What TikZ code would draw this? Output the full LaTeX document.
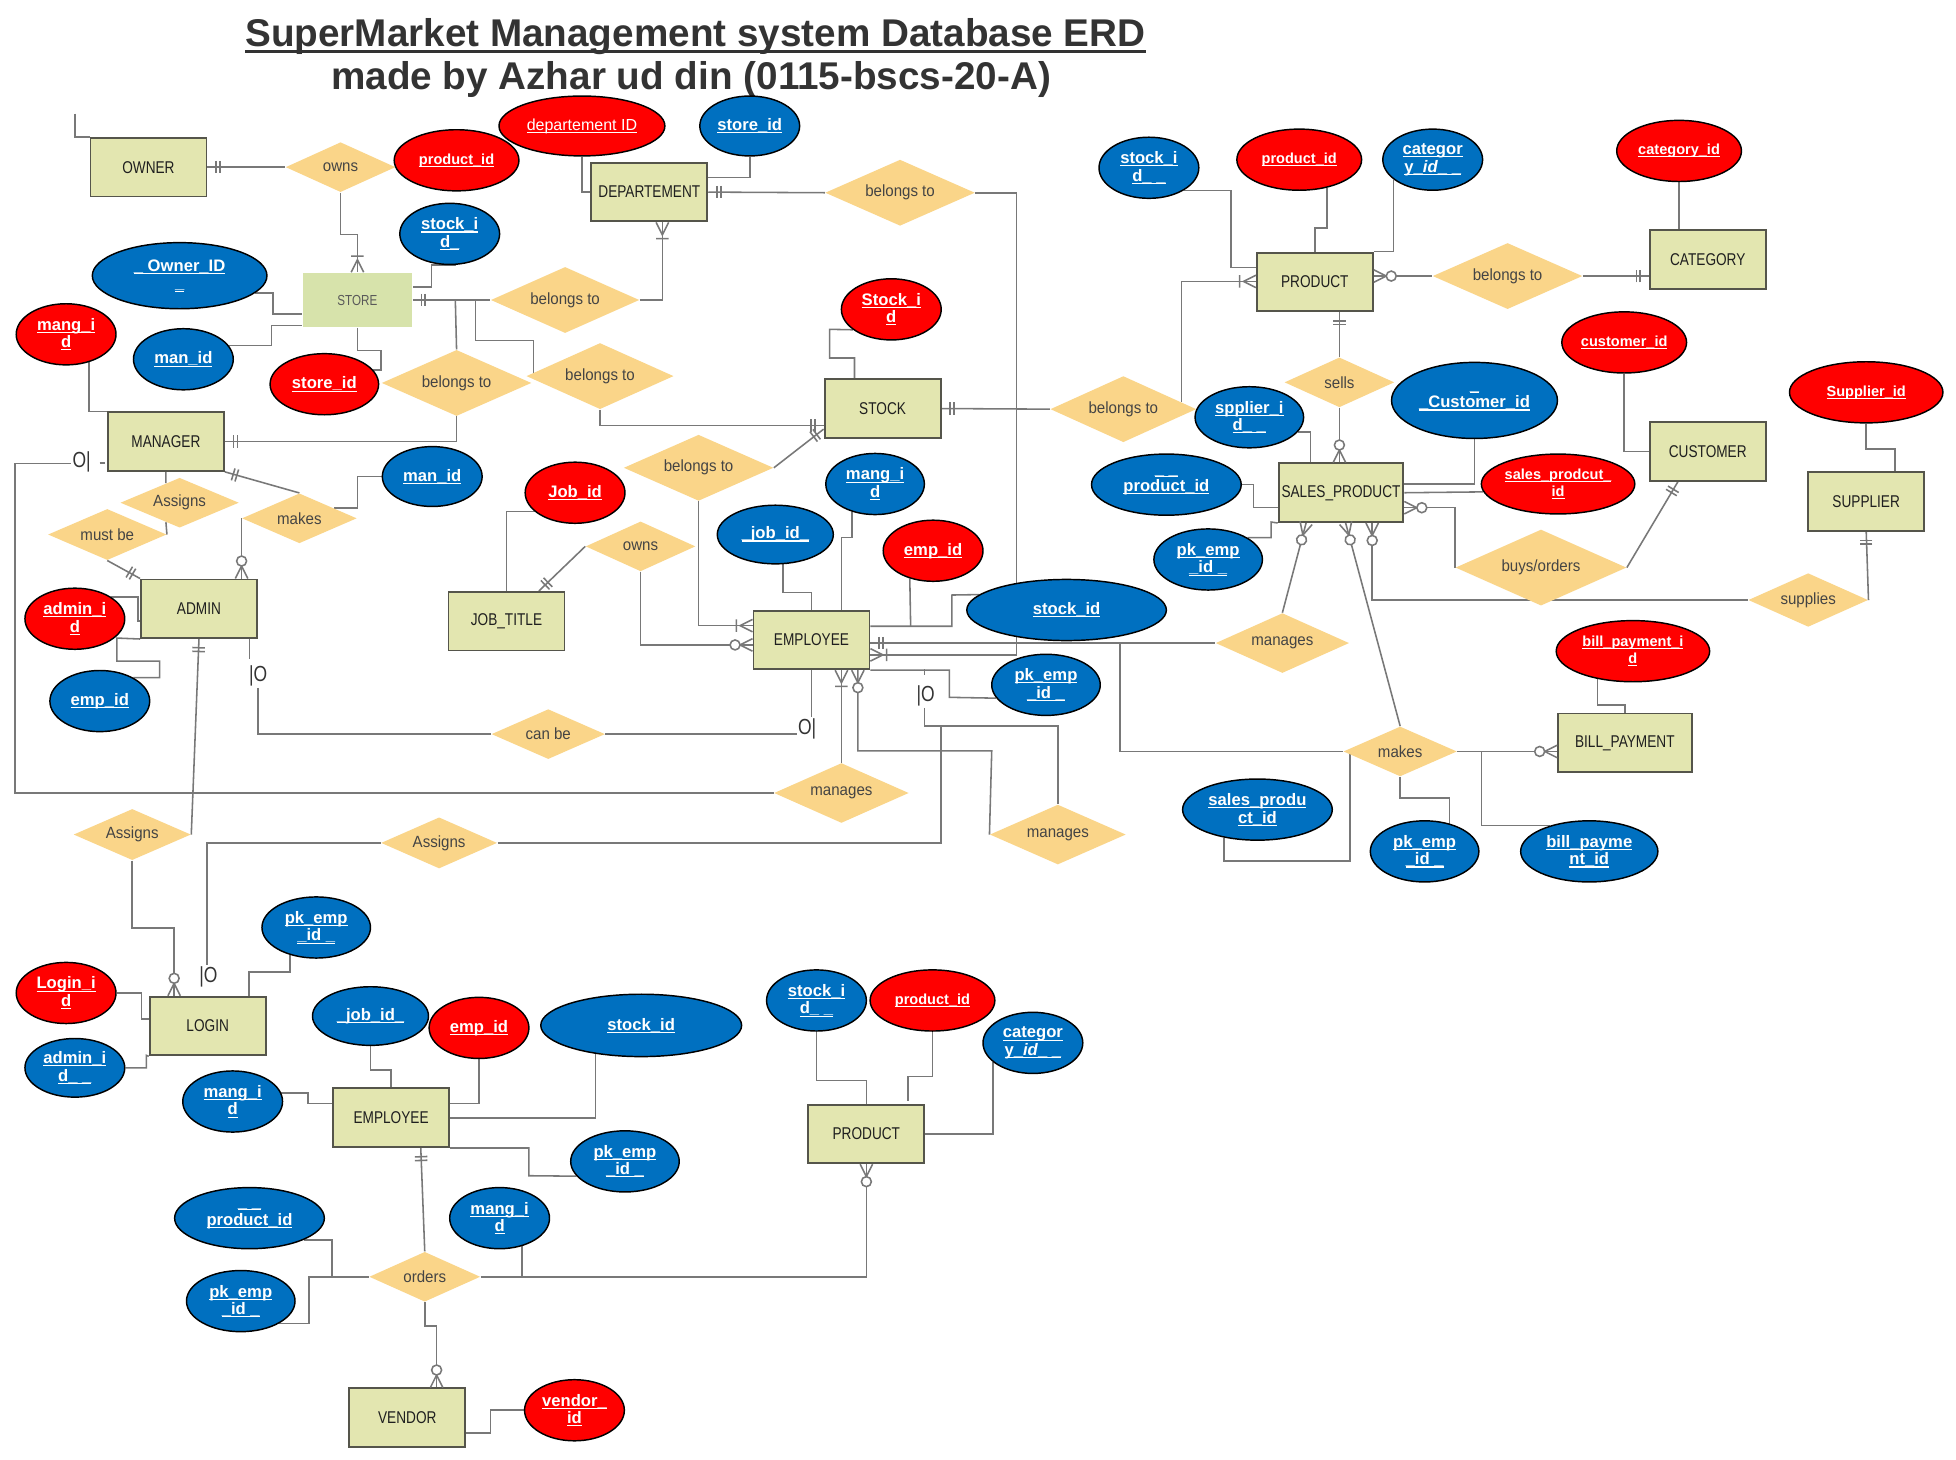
\documentclass[tikz,border=0pt]{standalone}
\usepackage{fontspec}
\setmainfont{Liberation Sans}
\newfontfamily\entfont[FakeStretch=0.8]{Liberation Sans}
\newfontfamily\relfont[FakeStretch=0.93]{Liberation Sans}
\usetikzlibrary{shapes.geometric, positioning, calc, backgrounds}

\definecolor{entfill}{RGB}{227,230,176}
\definecolor{storefill}{RGB}{215,227,171}
\definecolor{entborder}{RGB}{85,85,75}
\definecolor{relfill}{RGB}{250,213,137}
\definecolor{reltext}{RGB}{68,68,68}
\definecolor{attrred}{RGB}{255,0,0}
\definecolor{attrblue}{RGB}{0,112,192}
\definecolor{linegray}{RGB}{120,120,120}
\definecolor{titlegray}{RGB}{51,51,51}

\newsavebox{\ulbox}
\newcommand{\ulx}[3]{\sbox{\ulbox}{#3}\rlap{\vrule width\wd\ulbox height\dimexpr#2-#1\relax depth #1\relax}\usebox{\ulbox}}
\newcommand{\fld}[1]{\makebox[0pt]{\ulx{1.3pt}{0.5pt}{#1}}}
\newcommand{\ttlu}[1]{\ulx{3pt}{1.2pt}{#1}}

\begin{document}
\begin{tikzpicture}[
    x=0.6pt, y=-0.6pt,
    entity/.style={rectangle, draw=entborder, line width=0.9pt, fill=entfill, minimum width=55.8pt, minimum height=28.2pt, inner sep=0, font=\entfont\fontsize{8.2}{9}\selectfont, text=black!88},
    storebox/.style={entity, draw=none, fill=storefill, font=\entfont\fontsize{7}{8}\selectfont, text=black!65},
    relation/.style={diamond, aspect=2.2, fill=relfill, inner sep=0, font=\relfont\fontsize{7.8}{9}\selectfont, text=reltext},
    keyred/.style={ellipse, draw=black, line width=0.7pt, fill=attrred, text=white, align=center, inner sep=0, font=\bfseries\fontsize{8}{8.4}\selectfont},
    keyblue/.style={keyred, fill=attrblue},
    keysmall/.style={font=\bfseries\fontsize{7}{8}\selectfont},
    sz/.style 2 args={minimum width=#1*0.6pt, minimum height=#2*0.6pt},
    cardtext/.style={inner sep=0.5pt, font=\entfont\fontsize{10.5}{12}\selectfont, text=titlegray},
    titletext/.style={font=\bfseries\fontsize{18.6}{22}\selectfont, text=titlegray, inner sep=0},
    relline/.style={draw=linegray, line width=0.75pt},
    onemark/.pic={\draw[relline] (7,-5) -- (7,5) (10,-5) -- (10,5);},
    onemany/.pic={\draw[relline] (0,-5) -- (10,0) -- (0,5) (13,-5) -- (13,5);},
    zeromany/.pic={\draw[relline] (0,-5) -- (10,0) -- (0,5); \draw[relline, fill=white] (14,0) circle[radius=4];}
]
    \useasboundingbox (0,0) rectangle (1568,1170);

    \node[titletext, anchor=base] (title1) at (557.5,37.2) {\ttlu{SuperMarket Management system Database ERD}};
    \node[titletext, anchor=base] (title2) at (554,71.8) {made by Azhar ud din (0115-bscs-20-A)};

    \node[entity] (owner) at (119,134) {OWNER};
    \node[storebox, minimum width=52.2pt, minimum height=25.8pt] (store) at (286.5,240.5) {STORE};
    \node[entity] (manager) at (133,354) {MANAGER};
    \node[entity] (dept) at (520.5,154) {DEPARTEMENT};
    \node[entity] (stock) at (707.5,327.5) {STOCK};
    \node[entity] (product) at (1054,226) {PRODUCT};
    \node[entity] (category) at (1369,208) {CATEGORY};
    \node[entity] (customer) at (1369,362) {CUSTOMER};
    \node[entity] (supplier) at (1496,402) {SUPPLIER};
    \node[entity, minimum width=60pt] (salesprod) at (1075,395) {SALES\_PRODUCT};
    \node[entity] (jobtitle) at (406,498) {JOB\_TITLE};
    \node[entity] (admin) at (159.5,488) {ADMIN};
    \node[entity] (employee) at (650.5,513) {EMPLOYEE};
    \node[entity, minimum width=64.2pt] (billpay) at (1302.5,595.5) {BILL\_PAYMENT};
    \node[entity] (login) at (166.5,822.5) {LOGIN};
    \node[entity] (emp2) at (313.5,896) {EMPLOYEE};
    \node[entity] (product2) at (694.5,909) {PRODUCT};
    \node[entity] (vendor) at (326.5,1136.5) {VENDOR};

    \node[relation, sz={88}{40}] (owns1) at (273,134) {owns};
    \node[relation, sz={119}{53}] (bel1) at (453,240.5) {belongs to};
    \node[relation, sz={120}{53}] (bel2) at (366,307) {belongs to};
    \node[relation, sz={118}{53}] (bel3) at (481,301.5) {belongs to};
    \node[relation, sz={120}{53}] (bel4) at (721.5,154.5) {belongs to};
    \node[relation, sz={117}{53}] (bel5) at (900.5,328) {belongs to};
    \node[relation, sz={120}{53}] (bel6) at (560,375) {belongs to};
    \node[relation, sz={120}{53}] (bel7) at (1208.5,221.3) {belongs to};
    \node[relation, sz={88}{40}] (sells) at (1073.7,306.5) {sells};
    \node[relation, sz={95}{40}] (assigns1) at (144,403) {Assigns};
    \node[relation, sz={95}{41}] (mustbe) at (86,428.5) {must be};
    \node[relation, sz={92}{40}] (makes1) at (240,415.5) {makes};
    \node[relation, sz={88}{40}] (owns2) at (513.5,438) {owns};
    \node[relation, sz={91}{40}] (canbe) at (439.5,588.5) {can be};
    \node[relation, sz={108}{48}] (manages1) at (674.5,635.7) {manages};
    \node[relation, sz={109}{48}] (manages2) at (848,669) {manages};
    \node[relation, sz={107}{48}] (manages3) at (1028,515.5) {manages};
    \node[relation, sz={91}{40}] (makes2) at (1122.4,602.4) {makes};
    \node[relation, sz={137}{61}] (buys) at (1235.3,455) {buys/orders};
    \node[relation, sz={96}{43}] (supplies) at (1449.5,481) {supplies};
    \node[relation, sz={94}{41}] (assigns2) at (106,669) {Assigns};
    \node[relation, sz={93}{41}] (assigns3) at (352,675.7) {Assigns};
    \node[relation, sz={89}{40}] (orders) at (340.5,1023.5) {orders};

    \node[keyred, sz={133}{48}, font=\fontsize{7.7}{9}\selectfont] (deptid) at (466.5,101) {\fld{departement ID}};
    \node[keyred, keysmall, sz={100}{49}] (prodid1) at (366,128.5) {\fld{product\_id}};
    \node[keyblue, sz={80}{48}] (storeid1) at (601,101) {\fld{store\_id}};
    \node[keyblue, sz={80}{49}] (stockid1) at (360.5,187.5) {\fld{stock\_i}\\\fld{d\_}};
    \node[keyblue, sz={140}{53}] (ownerid) at (144,221) {\fld{\_ Owner\_ID}\\\fld{\_}};
    \node[keyred, sz={80}{49}] (mangid1) at (53,268) {\fld{mang\_i}\\\fld{d}};
    \node[keyblue, sz={80}{49}] (manid1) at (147,288) {\fld{man\_id}};
    \node[keyred, sz={87}{49}] (storeid2) at (260,308) {\fld{store\_id}};
    \node[keyred, sz={80}{49}] (stockid2) at (714.5,248) {\fld{Stock\_i}\\\fld{d}};
    \node[keyblue, sz={80}{49}] (stockid3) at (921,134.5) {\fld{stock\_i}\\\fld{d\_ \_}};
    \node[keyred, keysmall, sz={100}{49}] (prodid2) at (1041.5,128) {\fld{product\_id}};
    \node[keyblue, sz={80}{49}] (catid1) at (1148.5,128) {\fld{categor}\\\fld{y\_\textit{id}\_ \_}};
    \node[keyred, keysmall, sz={100}{49}] (catid2) at (1346,121) {\fld{category\_id}};
    \node[keyred, keysmall, sz={100}{49}] (custid1) at (1302,274.5) {\fld{customer\_id}};
    \node[keyred, keysmall, sz={123}{49}] (suppid) at (1496,314.5) {\fld{Supplier\_id}};
    \node[keyblue, sz={133}{61}] (custid2) at (1182,321) {\fld{\_}\\\fld{\_Customer\_id}};
    \node[keyblue, sz={87}{49}] (splid) at (1001.5,334.5) {\fld{spplier\_i}\\\fld{d\_ \_}};
    \node[keyblue, sz={120}{49}] (prodid3) at (935,388.5) {\fld{\_ \_}\\\fld{product\_id}};
    \node[keyred, keysmall, sz={123}{48}] (spid1) at (1249,388) {\fld{sales\_prodcut\_}\\\fld{id}};
    \node[keyblue, sz={87}{49}] (pkemp1) at (968.5,448.5) {\fld{pk\_emp}\\\fld{\_id \_}};
    \node[keyblue, sz={79}{49}] (mangid2) at (701.5,388) {\fld{mang\_i}\\\fld{d}};
    \node[keyblue, sz={93}{47}] (jobid1) at (621.5,428.5) {\fld{\_job\_id\_}};
    \node[keyred, sz={80}{49}] (jobid2) at (461,395) {\fld{Job\_id}};
    \node[keyred, sz={80}{49}] (empid1) at (748,441.5) {\fld{emp\_id}};
    \node[keyblue, sz={160}{49}] (stockid4) at (855,489) {\fld{stock\_id}};
    \node[keyblue, sz={87}{49}] (pkemp2) at (838.5,549) {\fld{pk\_emp}\\\fld{\_id \_}};
    \node[keyred, sz={80}{49}] (adminid1) at (60,496) {\fld{admin\_i}\\\fld{d}};
    \node[keyblue, sz={80}{49}] (empid2) at (80,562) {\fld{emp\_id}};
    \node[keyblue, sz={80}{48}] (manid2) at (346.5,382) {\fld{man\_id}};
    \node[keyred, keysmall, sz={123}{49}] (bpid1) at (1309,522) {\fld{bill\_payment\_i}\\\fld{d}};
    \node[keyblue, sz={120}{49}] (spid2) at (1008,649) {\fld{sales\_produ}\\\fld{ct\_id}};
    \node[keyblue, sz={87}{49}] (pkemp3) at (1142,682.5) {\fld{pk\_emp}\\\fld{\_id \_}};
    \node[keyblue, sz={110}{49}] (bpid2) at (1274,682.5) {\fld{bill\_payme}\\\fld{nt\_id}};
    \node[keyblue, sz={87}{49}] (pkemp4) at (253.5,743.5) {\fld{pk\_emp}\\\fld{\_id \_}};
    \node[keyred, sz={80}{49}] (loginid) at (53,796) {\fld{Login\_i}\\\fld{d}};
    \node[keyblue, sz={80}{47}] (adminid2) at (60,856) {\fld{admin\_i}\\\fld{d\_ \_}};
    \node[keyblue, sz={93}{47}] (jobid3) at (297,814.5) {\fld{\_job\_id\_}};
    \node[keyred, sz={80}{49}] (empid3) at (384,824) {\fld{emp\_id}};
    \node[keyblue, sz={161}{50}] (stockid5) at (514,822) {\fld{stock\_id}};
    \node[keyblue, sz={80}{49}] (mangid3) at (186.5,883) {\fld{mang\_i}\\\fld{d}};
    \node[keyblue, sz={87}{49}] (pkemp5) at (501,931) {\fld{pk\_emp}\\\fld{\_id \_}};
    \node[keyblue, sz={80}{49}] (mangid4) at (400.5,976.5) {\fld{mang\_i}\\\fld{d}};
    \node[keyblue, sz={120}{49}] (prodid4) at (200,976.5) {\fld{\_ \_}\\\fld{product\_id}};
    \node[keyblue, sz={87}{49}] (pkemp6) at (193,1043) {\fld{pk\_emp}\\\fld{\_id \_}};
    \node[keyred, sz={80}{49}] (vendorid) at (460.5,1130.5) {\fld{vendor\_}\\\fld{id}};
    \node[keyblue, sz={80}{49}] (stockid6) at (654.5,802) {\fld{stock\_i}\\\fld{d\_ \_}};
    \node[keyred, keysmall, sz={100}{49}] (prodid5) at (747.5,802) {\fld{product\_id}};
    \node[keyblue, sz={80}{49}] (catid3) at (828,836) {\fld{categor}\\\fld{y\_\textit{id}\_ \_}};

    \node[cardtext] (mk1) at (65.5,370) {O|};
    \node[cardtext] (mk2) at (207,542) {|O};
    \node[cardtext] (mk3) at (647,584) {O|};
    \node[cardtext] (mk4) at (742,558) {|O};
    \node[cardtext] (mk5) at (167,783) {|O};

    \coordinate (strayend) at (60,91);
    \coordinate (jstore1) at (365,240.5);
    \coordinate (jstore2) at (381,240.5);
    \coordinate (jsales) at (897.7,515.5);
    \coordinate (jmk4) at (754.4,582);
    \coordinate (jbill) at (1187.7,602.4);
    \coordinate (jemp) at (730,502);
    \coordinate (pend) at (727.7,882.9);
    \coordinate (tadmin) at (200,528);
    \coordinate (tick) at (741,541);

    \begin{scope}[on background layer]
    \fill[white] (0,0) rectangle (1568,1170);
    \draw[relline] (strayend) |- (owner.north west);
    \draw[relline] (owner.east) -- (owns1.west);
    \draw[relline] (owns1.south) -- (273,188) -| (store.north);
    \draw[relline] (stockid1.-78) -| (346,230) -- (store.east |- 0,230);
    \draw[relline] (ownerid.-13) -| (219,251.7) -- (store.west |- 0,251.7);
    \draw[relline] (manid1.17) -| (217.6,260.8) -- (store.west |- 0,260.8);
    \draw[relline] (store.south) |- (305.6,281) |- (storeid2.16);
    \draw[relline] (store.east) -- (bel1.west);
    \draw[relline] (jstore1) -- (bel2.north);
    \draw[relline] (jstore2) |- (427.6,273) -- (bel3.west -| 427.6,0);
    \draw[relline] (bel1.east) -| (dept.south -| 531,0);
    \draw[relline] (bel2.south) |- (manager.east);
    \draw[relline] (bel3.south) |- (stock.west |- 0,341);
    \draw[relline] (mangid1.-51) |- (manager.north west);
    \draw[relline] (manager.south east) -- (makes1.north);
    \draw[relline] (manager.south) -- ($(assigns1.north)!0.23!(assigns1.west)$);
    \draw[relline] ($(assigns1.south)!0.23!(assigns1.west)$) -- (mustbe.east);
    \draw[relline] (mustbe.south) -- (admin.north west);
    \draw[relline] (makes1.west) -- (makes1.west |- admin.north);
    \draw[relline] ($(makes1.north)!0.6!(makes1.east)$) -| (286.7,382) -- (manid2.west);
    \draw[relline] (adminid1.31) -| (110.6,498) -- (admin.west |- 0,498);
    \draw[relline] (admin.south west) -- (93.7,511.5) -- (93.7,530) -- (128,530) |- (empid2.35);
    \draw[relline] (admin.south) -- (assigns2.east);
    \draw[relline] (admin.south -| tadmin) -- (tadmin);
    \draw[relline] (mk2.south) |- (canbe.west);
    \draw[relline] (assigns2.south) |- (139.6,744) -- (login.north -| 139.6,0);
    \draw[relline] (assigns3.west) -| (mk5.north -| 166,0);
    \draw[relline] (pkemp4.-134) |- (199.5,779) -- (login.north -| 199.5,0);
    \draw[relline] (assigns3.east) -| (jmk4);
    \draw[relline] (manages1.west) -| (12,371.5) -- (mk1.west |- 0,371.5);
    \draw[relline] ($(mk1.east)+(6,1)$) -- ++(4,0);

    \draw[relline] (deptid.south) |- (dept.west);
    \draw[relline] (storeid1.south) |- (dept.east |- 0,142.3);
    \draw[relline] (dept.east) -- (bel4.west);
    \draw[relline] (bel4.east) -| (815,525) -- (employee.east |- 0,525);
    \draw[relline] (stock.north -| 685,0) -- (685,287) -| (665,264) -- (stockid2.208);
    \draw[relline] (stock.east) -- (bel5.west);
    \draw[relline] ($(bel5.east)!0.21!(bel5.north)$) |- (product.west |- 0,225.6);
    \draw[relline] (bel6.east) -- (stock.west |- 0,344);
    \draw[relline] (bel6.south) |- (employee.west |- 0,501.5);

    \draw[relline] (stockid3.-33) -| (986.7,214.6) -- (product.west |- 0,214.6);
    \draw[relline] (prodid2.-45) |- (product.north |- 0,183) -- (product.north);
    \draw[relline] (catid1.207) |- (product.north east);
    \draw[relline] (bel7.west -| product.east) -- (bel7.west);
    \draw[relline] (bel7.east) -- (bel7.east -| category.west);
    \draw[relline] (catid2.south) -- (catid2.south |- category.north);
    \draw[relline] (product.south -| sells.north) -- (sells.north);
    \draw[relline] (sells.south) -- (sells.south |- salesprod.north);
    \draw[relline] (custid2.south) |- (salesprod.east |- 0,388);
    \draw[relline] (splid.-17) -| (salesprod.north -| 1050.4,0);
    \draw[relline] (prodid3.east) -| (1004.7,406.7) -- (salesprod.west |- 0,406.7);
    \draw[relline] (pkemp1.29) -| (1019,418.5) -- (salesprod.south west);
    \draw[relline] (custid1.south) |- (customer.west);
    \draw[relline] (suppid.south) |- (1519,360) -- (supplier.north -| 1519,0);
    \draw[relline] (salesprod.east) -- (spid1.186);
    \draw[relline] (salesprod.east |- 0,407) -| (buys.west);
    \draw[relline] (buys.east) -- (customer.south -| 1345,0);
    \draw[relline] (salesprod.south -| 1100,0) |- (supplies.west);
    \draw[relline] (supplies.east) -- (supplier.south);
    \draw[relline] (salesprod.south -| 1078.7,0) -- (makes2.north);
    \draw[relline] (salesprod.south -| 1047,0) -- (manages3.north);
    \draw[relline] (employee.east |- manages3.west) -- (manages3.west);
    \draw[relline] (jsales) |- (makes2.west);
    \draw[relline] (makes2.east) -- (billpay.west |- makes2.east);
    \draw[relline] (jbill) |- (bpid2.147);
    \draw[relline] (makes2.south) -- ++(0,17) -| (pkemp3.48);
    \draw[relline] (spid2.220) |- (1082,690) -- (makes2.west -| 1082,0);
    \draw[relline] (bpid1.218) |- (billpay.north |- 0,565) -- (billpay.north);

    \draw[relline] (owns2.south) |- (employee.west |- 0,517);
    \draw[relline] (owns2.west) -- (jobtitle.north -| 432,0);
    \draw[relline] (jobid2.205) -| (jobtitle.north);
    \draw[relline] (jobid1.-75) |- (employee.north |- 0,475) -- (employee.north);
    \draw[relline] (mangid2.-130) |- (674.4,431) -- (employee.north -| 674.4,0);
    \draw[relline] (empid1.-130) -- (jemp);
    \draw[relline] (employee.east |- 0,502) -| (763,477) -- (stockid4.170);
    \draw[relline] (employee.south east) -| (761,559) -- (pkemp2.195);
    \draw[relline] (tick) -- ++(0,-4.5);
    \draw[relline] (mk4.south -| 741,0) -- (741,582) -| (manages2.north);
    \draw[relline] (employee.south) -- (mk3.north -| employee.south);
    \draw[relline] (mk3.west |- canbe.east) -- (canbe.east);
    \draw[relline] (employee.south -| manages1.north) -- (manages1.north);
    \draw[relline] (employee.south -| 687.7,0) |- (795,602) -- (manages2.west);

    \draw[relline] (loginid.east) -| (113.3,817) -- (login.west |- 0,817);
    \draw[relline] (adminid2.east) -| (117.3,846) -- (login.south west);
    \draw[relline] (jobid3.south) |- (emp2.north |- 0,857.8) -- (emp2.north);
    \draw[relline] (empid3.south) |- (emp2.east |- 0,884.5);
    \draw[relline] (stockid5.212) |- (emp2.east);
    \draw[relline] (mangid3.10) -| (246.7,884.5) -- (emp2.west |- 0,884.5);
    \draw[relline] (emp2.south east) -| (424,942.5) -- (pkemp5.197);
    \draw[relline] (emp2.south -| 337.3,0) -- (orders.north);
    \draw[relline] (prodid4.-22) -| (266,1023.5) -- (orders.west);
    \draw[relline] (pkemp6.-30) -| (247.7,1023.5) -- (266,1023.5);
    \draw[relline] (orders.east) -| (product2.south);
    \draw[relline] (mangid4.-51) -- (mangid4.-51 |- orders.east);
    \draw[relline] (orders.south) -- ++(0,19) -| (vendor.north -| 350,0);
    \draw[relline] (vendor.east |- 0,1148.8) -| (393.3,1130.5) -- (vendorid.west);
    \draw[relline] (stockid6.south) |- (product2.north |- 0,866.3) -- (product2.north);
    \draw[relline] (prodid5.south) |- (727.7,862.8) -- (pend);
    \draw[relline] (catid3.206) |- (product2.east);
    \end{scope}

    \pic at (owner.east) {onemark};
    \pic[rotate=90] at (store.north) {onemany};
    \pic at (store.east) {onemark};
    \pic[rotate=-90] at (dept.south -| 531,0) {onemany};
    \pic at (manager.east) {onemark};
    \pic[rotate=180] at (stock.west |- 0,341) {onemark};
    \pic[rotate=-17] at (manager.south east) {onemark};
    \pic[rotate=149] at (admin.north west) {onemark};
    \pic[rotate=90] at (makes1.west |- admin.north) {zeromany};
    \pic[rotate=-92] at (admin.south) {onemark};
    \pic[rotate=90] at (login.north -| 139.6,0) {zeromany};
    \pic at (dept.east) {onemark};
    \pic at (stock.east) {onemark};
    \pic[rotate=180] at (product.west |- 0,225.6) {onemany};
    \pic at (bel7.west -| product.east) {zeromany};
    \pic[rotate=180] at (bel7.east -| category.west) {onemark};
    \pic[rotate=-90] at (product.south -| sells.north) {onemark};
    \pic[rotate=90] at (sells.south |- salesprod.north) {zeromany};
    \pic at (salesprod.east |- 0,407) {zeromany};
    \pic[rotate=-121] at (customer.south -| 1345,0) {onemark};
    \pic[rotate=-90] at (salesprod.south -| 1100,0) {zeromany};
    \pic[rotate=-90] at (supplier.south) {onemark};
    \pic[rotate=-75] at (salesprod.south -| 1078.7,0) {zeromany};
    \pic[rotate=-105] at (salesprod.south -| 1047,0) {zeromany};
    \pic at (employee.east |- manages3.west) {onemark};
    \pic[rotate=180] at (billpay.west |- makes2.east) {zeromany};
    \pic[rotate=180] at (employee.west |- 0,501.5) {onemany};
    \pic[rotate=180] at (employee.west |- 0,517) {zeromany};
    \pic[rotate=44] at (jobtitle.north -| 432,0) {onemark};
    \pic[rotate=-143] at (stock.west |- 0,344) {onemark};
    \pic at (employee.east |- 0,525) {onemany};
    \pic[rotate=-90] at (employee.south -| manages1.north) {onemany};
    \pic[rotate=-90] at (employee.south -| 687.7,0) {zeromany};
    \pic[rotate=-88] at (emp2.south -| 337.3,0) {onemark};
    \pic[rotate=-90] at (product2.south) {zeromany};
    \pic[rotate=90] at (vendor.north -| 350,0) {zeromany};
\end{tikzpicture}
\end{document}
